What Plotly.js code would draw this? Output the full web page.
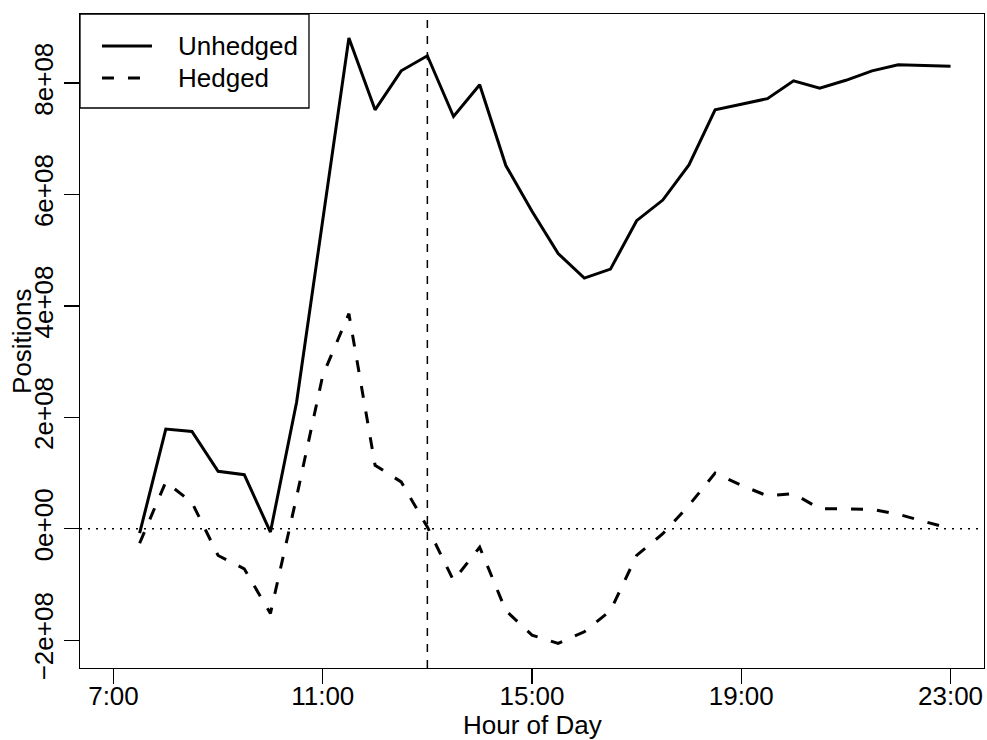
<!DOCTYPE html>
<html>
<head>
<meta charset="utf-8">
<script src="https://cdn.plot.ly/plotly-3.0.1.min.js"></script>
<style>html,body{margin:0;padding:0;background:#fff;}#chart{width:987px;height:740px;}</style>
</head>
<body>
<div id="chart"></div>
<script>
var hours = [7.5, 8, 8.5, 9, 9.5, 10, 10.5, 11, 11.5, 12, 12.5, 13, 13.5, 14, 14.5, 15,
             15.5, 16, 16.5, 17, 17.5, 18, 18.5, 19, 19.5, 20, 20.5, 21, 21.5, 22, 22.5, 23];
var unhedged = [-0.08e8, 1.79e8, 1.745e8, 1.03e8, 0.97e8, -0.06e8, 2.27e8, 5.5e8, 8.81e8, 7.52e8,
                8.22e8, 8.49e8, 7.40e8, 7.97e8, 6.52e8, 5.70e8, 4.94e8, 4.50e8, 4.66e8, 5.53e8,
                5.90e8, 6.53e8, 7.52e8, 7.62e8, 7.72e8, 8.04e8, 7.91e8, 8.05e8, 8.22e8, 8.33e8,
                8.32e8, 8.30e8];
var hedged = [-0.26e8, 0.84e8, 0.47e8, -0.48e8, -0.72e8, -1.52e8, 0.57e8, 2.75e8, 3.86e8, 1.14e8,
              0.84e8, 0.03e8, -0.93e8, -0.33e8, -1.47e8, -1.91e8, -2.06e8, -1.85e8, -1.47e8, -0.48e8,
              -0.09e8, 0.42e8, 1.00e8, 0.78e8, 0.59e8, 0.63e8, 0.36e8, 0.35e8, 0.35e8, 0.26e8,
              0.13e8, 0.00e8];
var seriesNames = ['Unhedged', 'Hedged'];
var xTickVals = [7, 11, 15, 19, 23];
var xTickText = ['7:00', '11:00', '15:00', '19:00', '23:00'];
var yTickVals = [-2e8, 0, 2e8, 4e8, 6e8, 8e8];
var yTickText = ['\u22122e+08', '0e+00', '2e+08', '4e+08', '6e+08', '8e+08'];
var xTitle = 'Hour of Day';
var yTitle = 'Positions';
var refHour = 13;
var refLevel = 0;

var FONT = 'Liberation Sans, Arial, Helvetica, sans-serif';
var styles = [{color: '#000', width: 3}, {color: '#000', width: 3, dash: '12px,14px'}];

var traces = [
  {x: hours, y: unhedged, type: 'scatter', mode: 'lines', name: seriesNames[0], line: styles[0]},
  {x: hours, y: hedged, type: 'scatter', mode: 'lines', name: seriesNames[1], line: styles[1]}
];

// legend box (paper coords)
var legX1 = 0.2533, legY0 = 0.8563;
var rowY = [0.9511, 0.9021];
var keyX0 = 0.0243, keyX1 = 0.0796, textX = 0.1062;

var shapes = [
  {type: 'line', xref: 'x', yref: 'paper', x0: refHour, x1: refHour, y0: 0, y1: 1,
   line: {color: '#000', width: 1.5, dash: '8px,8px'}},
  {type: 'line', xref: 'paper', yref: 'y', x0: 0, x1: 1, y0: refLevel, y1: refLevel,
   line: {color: '#000', width: 1.5, dash: '2px,6px'}},
  {type: 'rect', xref: 'paper', yref: 'paper', x0: 0, x1: legX1, y0: legY0, y1: 1,
   fillcolor: '#fff', line: {color: '#000', width: 1.3}}
];
var annotations = [
  {xref: 'paper', yref: 'paper', x: 0.5, y: -0.0872, xanchor: 'center', yanchor: 'middle',
   text: xTitle, showarrow: false, font: {family: FONT, size: 26, color: '#000'}},
  {xref: 'paper', yref: 'paper', x: -0.0642, y: 0.5, xanchor: 'center', yanchor: 'middle',
   text: yTitle, textangle: -90, showarrow: false, font: {family: FONT, size: 26, color: '#000'}}
];
for (var i = 0; i < seriesNames.length; i++) {
  shapes.push({type: 'line', xref: 'paper', yref: 'paper', x0: keyX0, x1: keyX1, y0: rowY[i], y1: rowY[i],
               line: styles[i]});
  annotations.push({xref: 'paper', yref: 'paper', x: textX, y: rowY[i], xanchor: 'left', yanchor: 'middle',
                    text: seriesNames[i], showarrow: false, font: {family: FONT, size: 26, color: '#000'}});
}

var layout = {
  width: 987, height: 740,
  margin: {l: 80, r: 3, t: 14, b: 72},
  paper_bgcolor: '#fff', plot_bgcolor: '#fff',
  font: {family: FONT, size: 26, color: '#000'},
  showlegend: false,
  xaxis: {
    range: [6.36, 23.64], tickmode: 'array', tickvals: xTickVals, ticktext: xTickText,
    ticks: 'outside', ticklen: 15, tickwidth: 1.3, tickcolor: '#000', ticklabelstandoff: -11,
    showline: true, mirror: true, linecolor: '#000', linewidth: 1.3,
    showgrid: false, zeroline: false,
    tickfont: {family: FONT, size: 26, color: '#000'}
  },
  yaxis: {
    range: [-2.5e8, 9.24e8], tickmode: 'array', tickvals: yTickVals, ticktext: yTickText,
    ticks: 'outside', ticklen: 15, tickwidth: 1.3, tickcolor: '#000', tickangle: -90,
    showline: true, mirror: true, linecolor: '#000', linewidth: 1.3,
    showgrid: false, zeroline: false,
    tickfont: {family: FONT, size: 26, color: '#000'}
  },
  shapes: shapes,
  annotations: annotations
};

Plotly.newPlot('chart', traces, layout, {displayModeBar: false, staticPlot: true});
</script>
</body>
</html>
